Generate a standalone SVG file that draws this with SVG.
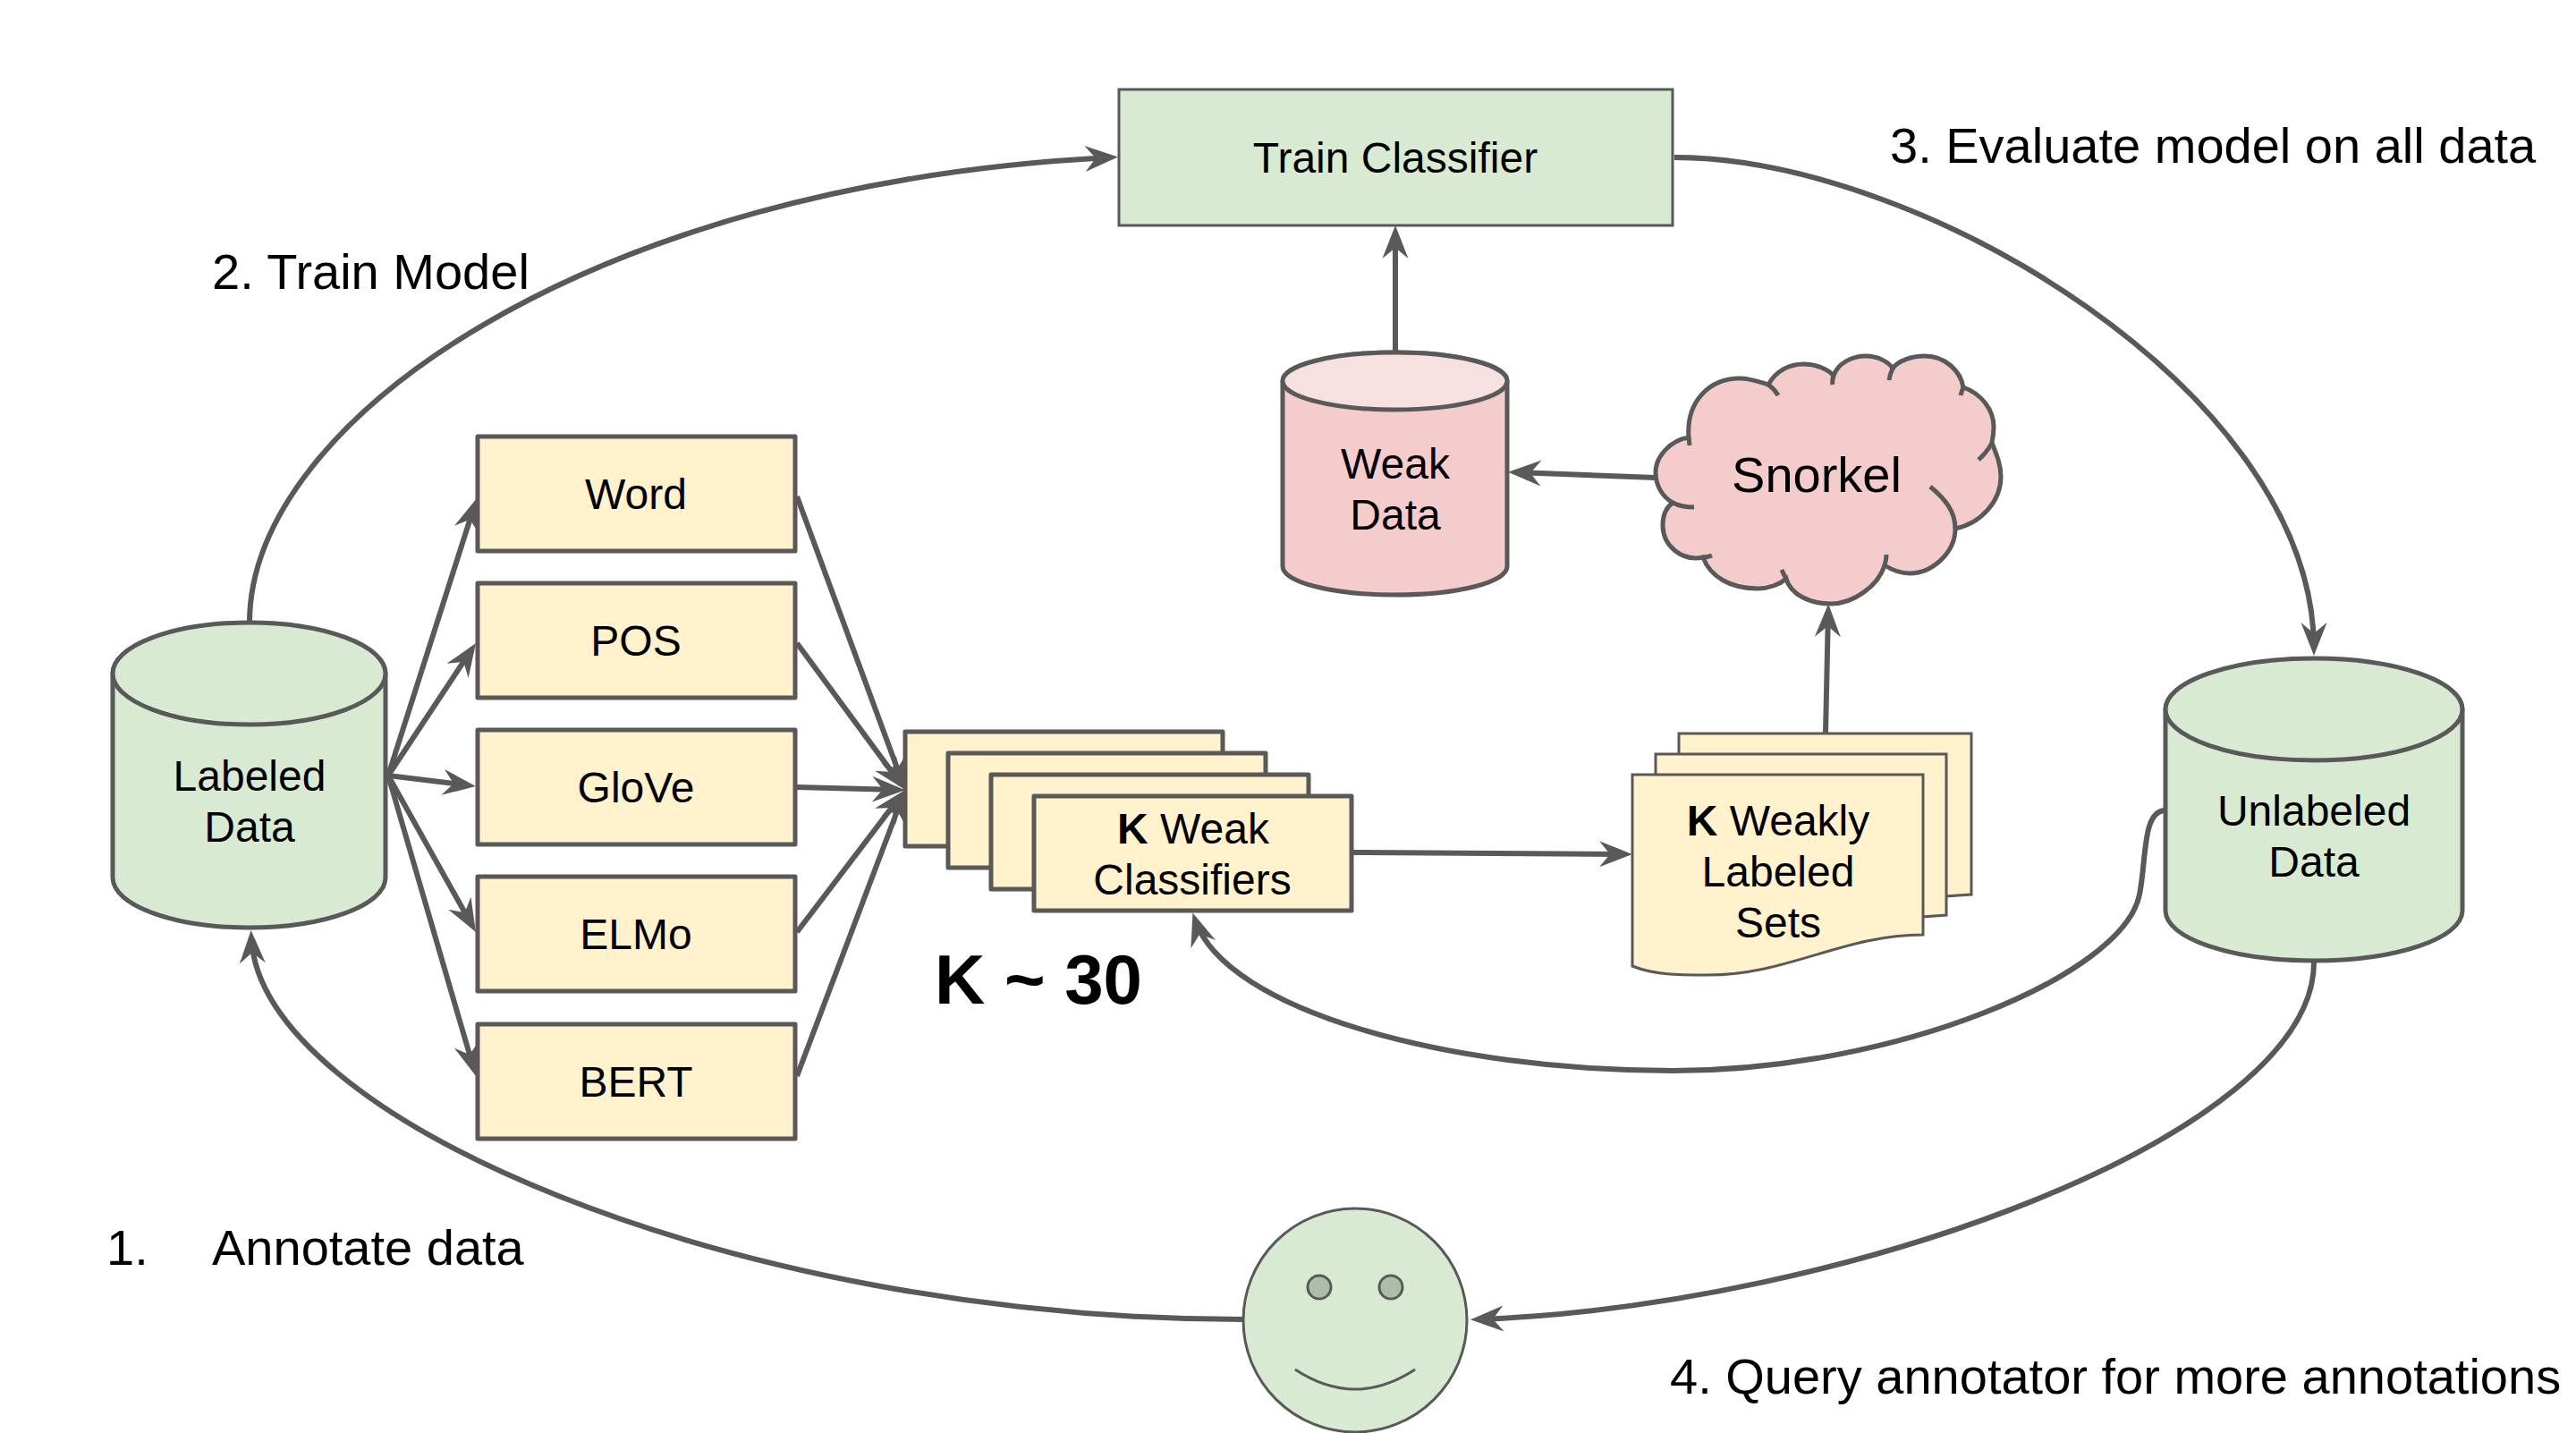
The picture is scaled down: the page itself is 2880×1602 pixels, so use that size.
<svg xmlns="http://www.w3.org/2000/svg" width="2880" height="1602" viewBox="0 0 2880 1602">
<style>
text{font-family:"Liberation Sans",Arial,sans-serif;font-size:48px;fill:#000;text-anchor:middle}
.lab{font-size:56px;text-anchor:start}
.b{font-weight:bold}
.box{fill:#fff2cc;stroke:#595959;stroke-width:5;stroke-linejoin:round}
.doc{fill:#fff2cc;stroke:#595959;stroke-width:3}
.g{fill:#d9ead3;stroke:#595959;stroke-width:5}
.r{fill:#f4cccc;stroke:#595959;stroke-width:5}
.c{fill:none;stroke:#595959;stroke-width:6;marker-end:url(#a)}
.n{fill:none;stroke:#595959;stroke-width:5}
</style>
<defs>
<marker id="a" markerUnits="userSpaceOnUse" markerWidth="37" markerHeight="30" viewBox="0 0 37 30" refX="29" refY="15" orient="auto">
<path d="M37,15 L0,0.500 L12,15 L0,29.500 Z" fill="#595959"/>
</marker>
</defs>
<rect width="2880" height="1602" fill="#fff"/>
<g id="connectors">
<path class="c" d="M279,696 C279,470 660,205 1242,176"/>
<path class="c" d="M1872,176 C2150,176 2587,440 2587,725"/>
<path class="c" d="M2587,1076 C2587,1270 2060,1460 1652,1475"/>
<path class="c" d="M1390,1475 C820,1475 290,1250 281,1048"/>
<path class="c" d="M2421,906 C2395,906 2400,960 2392,1000 C2374,1090 2120,1197 1870,1197 C1620,1197 1370,1130 1336,1028"/>
<path class="c" d="M1560,394 L1560,260"/>
<path class="c" d="M1851,534 L1694,528"/>
<path class="c" d="M2041,820 L2044,683"/>
<path class="c" d="M1510,953 L1817,955"/>
<path class="c" d="M434,867 L530.600,564.600"/>
<path class="c" d="M434,867 L527.600,725.700"/>
<path class="c" d="M434,867 L524,878"/>
<path class="c" d="M434,867 L528,1035"/>
<path class="c" d="M434,867 L529.800,1195.300"/>
<path class="c" d="M891,555 L1009.200,875.500"/>
<path class="c" d="M891,719 L1007.200,876.600"/>
<path class="c" d="M891,880 L1004,883"/>
<path class="c" d="M891,1042 L1007.200,889.400"/>
<path class="c" d="M891,1203 L1009.200,890.500"/>
</g>
<g id="train-classifier">
<rect x="1251" y="100" width="619" height="152" fill="#d9ead3" stroke="#595959" stroke-width="3"/>
<text x="1560" y="193">Train Classifier</text>
</g>
<g id="labeled-data">
<path class="g" d="M126,753 C126,722 194,697 278.500,697 C363,697 431,722 431,753 L431,981 C431,1012 363,1037 278.500,1037 C194,1037 126,1012 126,981 Z"/>
<ellipse class="g" cx="278.500" cy="753" rx="152.500" ry="57"/>
<text x="279" y="884">Labeled</text><text x="279" y="941">Data</text>
</g>
<g id="unlabeled-data">
<path class="g" d="M2421,793 C2421,762 2495,737 2587,737 C2679,737 2753,762 2753,793 L2753,1018 C2753,1049 2679,1074 2587,1074 C2495,1074 2421,1049 2421,1018 Z"/>
<ellipse class="g" cx="2587" cy="793" rx="166" ry="57"/>
<text x="2587" y="923">Unlabeled</text><text x="2587" y="980">Data</text>
</g>
<g id="weak-data">
<path class="r" d="M1434,426 C1434,408 1490,394 1560,394 C1630,394 1685,408 1685,426 L1685,633 C1685,651 1630,665 1560,665 C1490,665 1434,651 1434,633 Z"/>
<ellipse cx="1559.500" cy="426" rx="125.500" ry="32" fill="#f6e0e0" stroke="#595959" stroke-width="5"/>
<text x="1560" y="535">Weak</text><text x="1560" y="592">Data</text>
</g>
<g id="snorkel">
<path class="r" d="M1888,489 C1885,450 1910,423 1945,423 C1958,423 1970,428 1977,430 C1985,415 2000,407 2017,407 C2032,407 2045,414 2050,420 C2055,405 2072,398 2086,398 C2100,398 2112,405 2116,412 C2122,403 2138,398 2152,398 C2175,398 2192,415 2195,433 C2215,440 2229,458 2229,477 C2229,485 2228,490 2227,495 C2233,510 2237,520 2237,533 C2237,560 2215,585 2186,591 C2186,618 2160,641 2135,641 C2125,641 2115,637 2107,632 C2100,655 2072,675 2047,675 C2024,675 2002,665 1997,647 C1990,653 1978,658 1965,658 C1935,658 1912,645 1904,623 C1880,628 1859,610 1859,587 C1859,578 1862,568 1870,562 C1858,555 1851,542 1851,528 C1851,510 1868,492 1888,489 Z"/>
<path class="n" d="M1888,489 L1889,498 M1977,430 Q1984,435 1988,442 M2050,420 Q2048,425 2049,430 M2116,412 Q2113,418 2112,425 M2195,433 Q2193,438 2192,442 M2227,495 Q2222,505 2212,514 M2158,544 C2175,558 2186,572 2186,591 M2107,632 Q2109,626 2109,620 M1997,647 Q1994,642 1992,637 M1904,623 Q1909,623 1914,621 M1870,562 Q1880,567 1894,567"/>
<text x="2031" y="550" style="font-size:56px">Snorkel</text>
</g>
<g id="word"><rect class="box" x="534" y="488" width="355" height="128"/><text x="711" y="569">Word</text></g>
<g id="pos"><rect class="box" x="534" y="652" width="355" height="128"/><text x="711" y="733">POS</text></g>
<g id="glove"><rect class="box" x="534" y="816" width="355" height="128"/><text x="711" y="897">GloVe</text></g>
<g id="elmo"><rect class="box" x="534" y="980" width="355" height="128"/><text x="711" y="1061">ELMo</text></g>
<g id="bert"><rect class="box" x="534" y="1145" width="355" height="128"/><text x="711" y="1226">BERT</text></g>
<g id="weak-classifiers">
<rect class="box" x="1012" y="818" width="355" height="128"/>
<rect class="box" x="1060" y="842" width="355" height="128"/>
<rect class="box" x="1108" y="866" width="355" height="128"/>
<rect class="box" x="1156" y="890" width="355" height="128"/>
<text x="1334" y="943"><tspan class="b">K</tspan> Weak</text>
<text x="1333" y="1000">Classifiers</text>
</g>
<g id="weakly-labeled-sets">
<path class="doc" d="M1877,820 H2204 V1000 L1900,1020 H1877 Z"/>
<path class="doc" d="M1851,843 H2176 V1023 L1900,1043 H1851 Z"/>
<path class="doc" d="M1825,866 H2150 V1045 C2060,1045 2000,1090 1909,1090 C1875,1090 1850,1090 1825,1080 Z"/>
<text x="1988" y="934"><tspan class="b">K</tspan> Weakly</text>
<text x="1988" y="991">Labeled</text>
<text x="1988" y="1048">Sets</text>
</g>
<g id="annotator">
<circle cx="1515" cy="1476" r="125" fill="#d9ead3" stroke="#595959" stroke-width="3"/>
<circle cx="1475" cy="1439" r="13" fill="#aebdaa" stroke="#595959" stroke-width="3"/>
<circle cx="1555" cy="1439" r="13" fill="#aebdaa" stroke="#595959" stroke-width="3"/>
<path d="M1448,1531 Q1515,1575 1582,1531" fill="none" stroke="#595959" stroke-width="3"/>
</g>
<g id="labels">
<text class="lab" x="237" y="323">2. Train Model</text>
<text class="lab" x="2113" y="182">3. Evaluate model on all data</text>
<text class="lab" x="119" y="1414">1.</text>
<text class="lab" x="237" y="1414">Annotate data</text>
<text class="lab" x="1867" y="1558">4. Query annotator for more annotations</text>
<text class="b" x="1161" y="1122" style="font-size:78px">K ~ 30</text>
</g>
</svg>
